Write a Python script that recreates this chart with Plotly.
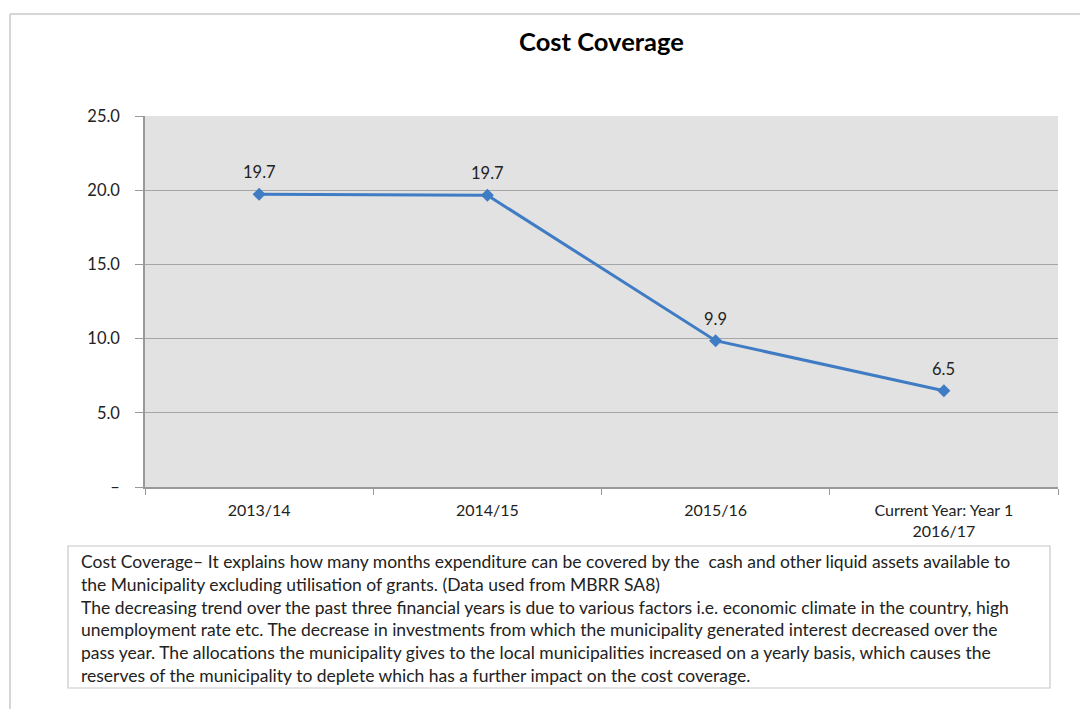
import plotly.graph_objects as go

categories = ["2013/14", "2014/15", "2015/16", "Current Year: Year 1<br>2016/17"]
values = [19.72, 19.66, 9.86, 6.49]
labels = ["19.7", "19.7", "9.9", "6.5"]
ytick_vals = [0, 5, 10, 15, 20, 25]
ytick_text = ["–", "5.0", "10.0", "15.0", "20.0", "25.0"]
note_lines = [
    "Cost Coverage– It explains how many months expenditure can be covered by the  cash and other liquid assets available to",
    "the Municipality excluding utilisation of grants. (Data used from MBRR SA8)",
    "The decreasing trend over the past three financial years is due to various factors i.e. economic climate in the country, high",
    "unemployment rate etc. The decrease in investments from which the municipality generated interest decreased over the",
    "pass year. The allocations the municipality gives to the local municipalities increased on a yearly basis, which causes the",
    "reserves of the municipality to deplete which has a further impact on the cost coverage.",
]

FONT = "Lato"
W, H = 1080, 709
L, R, T, B = 145, 1058, 116, 487

def px(x):
    return (x - L) / (R - L)

def py(y):
    return (B - y) / (B - T)

fig = go.Figure()
fig.add_trace(go.Scatter(
    x=categories, y=values, mode="lines+markers",
    line=dict(color="#3f7cc4", width=3),
    marker=dict(symbol="diamond", size=10, color="#3f7cc4"),
    cliponaxis=False, showlegend=False, hoverinfo="x+y",
))
for c, v, t in zip(categories, values, labels):
    fig.add_annotation(x=c, y=v, text=t, showarrow=False, yshift=22,
                       yanchor="middle",
                       font=dict(family=FONT, size=16.5, color="#222222"))

fig.update_layout(
    width=W, height=H,
    margin=dict(l=L, r=W - R, t=T, b=H - B),
    paper_bgcolor="white", plot_bgcolor="#e2e2e2",
    title=dict(text="<b>Cost Coverage</b>", x=0.5, xanchor="center",
               xref="paper",
               y=1 - 42 / H, yanchor="middle",
               font=dict(family=FONT, size=25.5, color="black")),
    font=dict(family=FONT, size=16, color="#222222"),
)
fig.update_xaxes(
    type="category", range=[-0.5, 3.5], tickson="boundaries",
    ticks="outside", ticklen=6, tickcolor="#999999",
    showline=True, linecolor="#999999", linewidth=1.5,
    showgrid=False, ticklabelstandoff=8,
    tickfont=dict(family=FONT, size=16, color="#222222"),
)
fig.update_yaxes(
    range=[0, 25], tickvals=ytick_vals, ticktext=ytick_text,
    ticks="outside", ticklen=8, tickcolor="#999999",
    showline=True, linecolor="#999999", linewidth=1.5,
    showgrid=True, gridcolor="#a6a6a6", gridwidth=1.2,
    zeroline=False, ticklabelstandoff=12,
    tickfont=dict(family=FONT, size=16.5, color="#222222"),
)

# outer frame (top & left visible)
fig.add_shape(type="line", xref="paper", yref="paper",
              x0=px(10), x1=px(1085), y0=py(14), y1=py(14),
              line=dict(color="#c8c8c8", width=1.5))
fig.add_shape(type="line", xref="paper", yref="paper",
              x0=px(10), x1=px(10), y0=py(14), y1=py(715),
              line=dict(color="#c8c8c8", width=1.5))

# note box
fig.add_shape(type="rect", xref="paper", yref="paper",
              x0=px(68), x1=px(1050), y0=py(688), y1=py(546),
              line=dict(color="#c8c8c8", width=1.2), fillcolor="white")
fig.add_annotation(xref="paper", yref="paper", x=px(79), y=py(549),
                   xanchor="left", yanchor="top", align="left",
                   showarrow=False, text="<br>".join(note_lines),
                   font=dict(family=FONT, size=17.5, color="#222222"))

fig.write_html("out.html", config={"displayModeBar": False},
               post_script="document.body.style.margin='0';")
